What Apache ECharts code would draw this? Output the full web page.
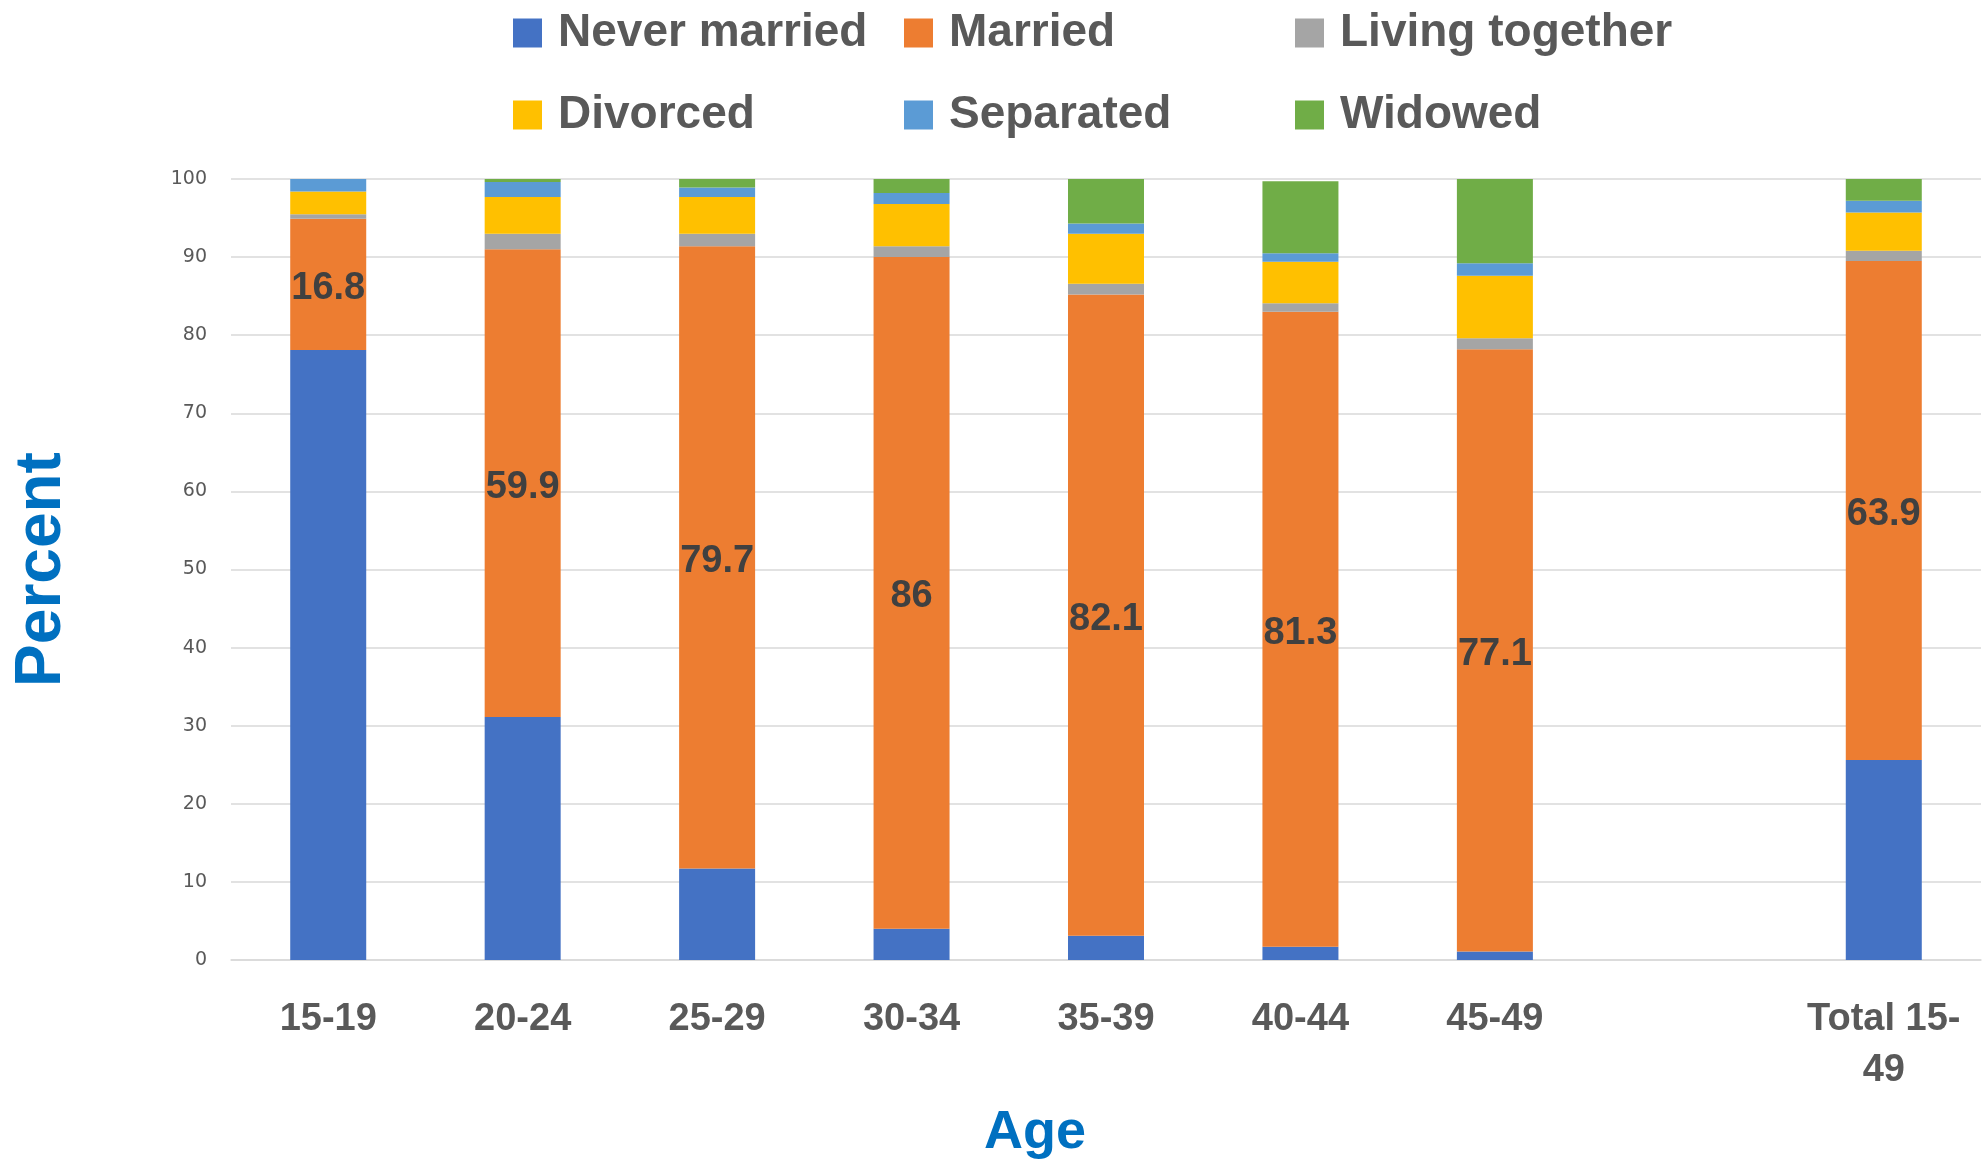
<!DOCTYPE html>
<html>
<head>
<meta charset="utf-8">
<script src="https://cdn.jsdelivr.net/npm/echarts@6/dist/echarts.min.js"></script>
<style>
html,body{margin:0;padding:0;background:#fff;}
#chart{width:1988px;height:1161px;}
</style>
</head>
<body>
<div id="chart"></div>
<script>
const categories = ['15-19', '20-24', '25-29', '30-34', '35-39', '40-44', '45-49', '', 'Total 15-49'];
const neverMarried   = [78.1, 31.1, 11.7, 4.0, 3.1, 1.7, 1.1, null, 25.6];
const married        = [16.8, 59.9, 79.7, 86, 82.1, 81.3, 77.1, null, 63.9];
const livingTogether = [0.6, 2.0, 1.6, 1.4, 1.4, 1.1, 1.4, null, 1.3];
const divorced       = [2.9, 4.7, 4.7, 5.4, 6.4, 5.3, 8.0, null, 4.9];
const separated      = [1.6, 1.9, 1.2, 1.4, 1.3, 1.1, 1.6, null, 1.5];
const widowed        = [0.0, 0.4, 1.1, 1.8, 5.7, 9.2, 10.8, null, 2.8];
const seriesNames = ['Never married', 'Married', 'Living together', 'Divorced', 'Separated', 'Widowed'];
const seriesData = [neverMarried, married, livingTogether, divorced, separated, widowed];
const colors = ['#4472C4', '#ED7D31', '#A5A5A5', '#FFC000', '#5B9BD5', '#70AD47'];
const yMin = 0, yMax = 100, yStep = 10;

const legendLeft = [513, 904, 1295];
const legendTop = [10, 92];
const legends = seriesNames.map((n, i) => ({
  data: [n],
  left: legendLeft[i % 3],
  top: legendTop[Math.floor(i / 3)],
  padding: 0,
  itemWidth: 29,
  itemHeight: 29,
  icon: 'rect',
  selectedMode: false,
  textStyle: {
    fontFamily: 'Liberation Sans',
    fontWeight: 'bold',
    fontSize: 46,
    color: '#595959',
    padding: [0, 0, 0, 11]
  }
}));

const series = seriesNames.map((n, i) => ({
  name: n,
  type: 'bar',
  stack: 'total',
  data: seriesData[i],
  barWidth: 76,
  itemStyle: { color: colors[i] },
  label: i === 1 ? {
    show: true,
    position: 'inside',
    offset: [0, 4],
    fontFamily: 'Liberation Sans',
    fontWeight: 'bold',
    fontSize: 38,
    color: '#404040'
  } : { show: false },
  emphasis: { disabled: true }
}));

const chart = echarts.init(document.getElementById('chart'), null, { renderer: 'canvas' });
chart.setOption({
  animation: false,
  backgroundColor: '#ffffff',
  color: colors,
  legend: legends,
  grid: { left: 231, right: 7, top: 179, bottom: 201, containLabel: false, outerBoundsMode: 'none' },
  xAxis: {
    type: 'category',
    data: categories,
    name: 'Age',
    nameLocation: 'middle',
    nameGap: 146,
    nameTextStyle: {
      fontFamily: 'Liberation Sans', fontWeight: 'bold', fontSize: 54, color: '#0070C0',
      padding: [0, 142, 0, 0]
    },
    axisLine: { show: true, lineStyle: { color: '#D9D9D9', width: 1.5 } },
    axisTick: { show: false },
    axisLabel: {
      margin: 34,
      interval: 0,
      fontFamily: 'Liberation Sans', fontWeight: 'bold', fontSize: 38, color: '#595959',
      lineHeight: 51,
      formatter: v => v === 'Total 15-49' ? 'Total 15-\n49' : v
    }
  },
  yAxis: {
    type: 'value',
    min: yMin, max: yMax, interval: yStep,
    name: 'Percent',
    nameLocation: 'middle',
    nameRotate: 90,
    nameGap: 157,
    nameTextStyle: { fontFamily: 'Liberation Sans', fontWeight: 'bold', fontSize: 64, color: '#0070C0' },
    axisLine: { show: false },
    axisTick: { show: false },
    axisLabel: { margin: 24, fontFamily: 'DejaVu Sans', fontSize: 19, color: '#595959' },
    splitLine: { show: true, lineStyle: { color: '#D9D9D9', width: 1.5 } }
  },
  series: series
});
</script>
</body>
</html>
